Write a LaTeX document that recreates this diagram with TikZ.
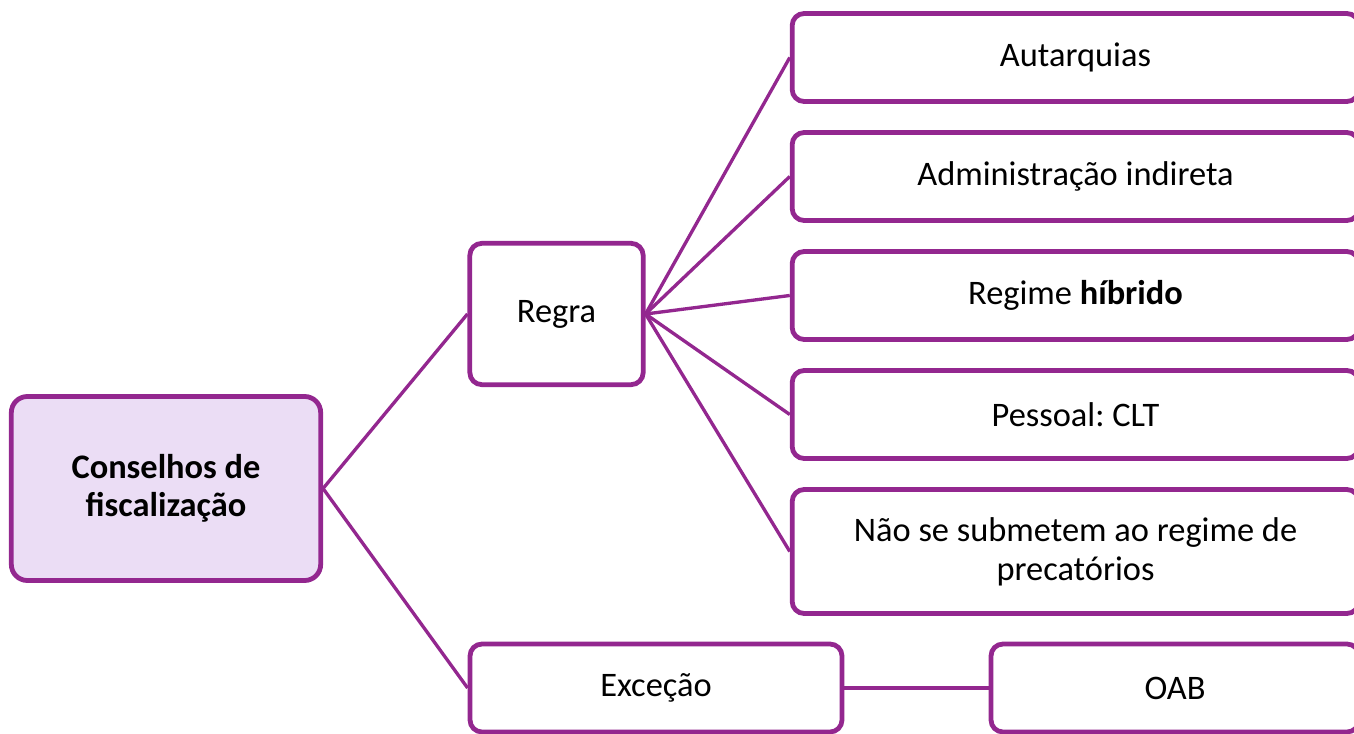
\documentclass[tikz,border=0pt]{standalone}
\usepackage{fontspec}
\setmainfont{Carlito}
\frenchspacing
\definecolor{pur}{RGB}{147,39,143}
\definecolor{lil}{RGB}{235,221,245}
\begin{document}
\begin{tikzpicture}[x=0.75pt,y=-0.75pt,
  box/.style={draw=pur,line width=3.6pt,rounded corners=9pt,fill=white,inner sep=0pt,align=center,font=\fontsize{25.8}{29}\selectfont},
  link/.style={draw=pur,line width=2.5pt}]
\useasboundingbox (0,0) rectangle (1354,734);
\clip (0,0) rectangle (1354,734);
\node[box,fill=lil,rounded corners=12pt,minimum width=232pt,minimum height=138pt,font=\fontsize{25.8}{28.5}\selectfont\bfseries] (root) at (166,488.5) {Conselhos de\\fiscalização};
\node[box,minimum width=130pt,minimum height=106pt] (regra) at (556.5,314) {Regra};
\node[box,minimum width=425pt,minimum height=66pt] (a1) at (1075.5,57.5) {Autarquias};
\node[box,minimum width=425pt,minimum height=66pt] (a2) at (1075.5,176.5) {Administração indireta};
\node[box,minimum width=425pt,minimum height=66pt] (a3) at (1075.5,295.5) {Regime \textbf{híbrido}};
\node[box,minimum width=425pt,minimum height=66pt] (a4) at (1075.5,414.5) {Pessoal: CLT};
\node[box,minimum width=425pt,minimum height=93pt,font=\fontsize{25.8}{29.2}\selectfont] (a5) at (1075.5,551.5) {Não se submetem ao regime de\\precatórios};
\node[box,minimum width=279pt,minimum height=66pt] (exc) at (656,688) {Exceção};
\node[box,minimum width=276pt,minimum height=66pt] (oab) at (1175,688) {OAB};
\draw[link] (root.east) -- (regra.west);
\draw[link] (root.east) -- (exc.west);
\foreach \n in {a1,a2,a3,a4,a5} \draw[link] (regra.east) -- (\n.west);
\draw[link] (exc.east) -- (oab.west);
\end{tikzpicture}
\end{document}
